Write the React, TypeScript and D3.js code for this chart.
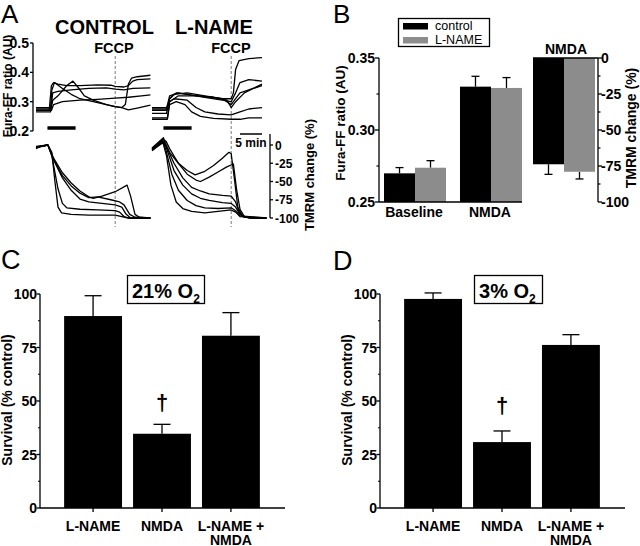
import React from 'react';
import * as d3 from 'd3';

const FONT = '"Liberation Sans", Arial, Helvetica, sans-serif';

// ---------- Panel A data ----------
const furaTicksA = [0.2, 0.3, 0.4, 0.5];
const tmrmTicksA = [0, -25, -50, -75, -100];
const fccpTime = 18;
const nmdaPeriod = [2.6, 9];
const scaleBarMinutes = 5;

type Pt = [number, number];

const controlFura: Pt[][] = [
  [[0, 0.27], [3, 0.27], [3.5, 0.355], [4, 0.365], [5, 0.36], [7, 0.355], [10, 0.355], [14, 0.357], [17, 0.356], [18, 0.352], [20, 0.35], [21, 0.355], [22, 0.37], [23, 0.375], [26, 0.378]],
  [[0, 0.265], [3.3, 0.265], [3.8, 0.305], [5, 0.32], [7, 0.355], [8.4, 0.37], [9.5, 0.35], [11, 0.32], [13, 0.305], [16, 0.29], [18, 0.283], [19.5, 0.28], [20.3, 0.29], [21, 0.36], [21.7, 0.38], [23, 0.385], [26, 0.39]],
  [[0, 0.275], [3.3, 0.275], [3.6, 0.34], [4.2, 0.365], [6, 0.345], [8, 0.325], [10, 0.31], [13, 0.3], [16, 0.29], [18, 0.283], [19.5, 0.28], [21, 0.272], [23, 0.278], [26, 0.288]],
  [[0, 0.27], [3.5, 0.27], [4, 0.29], [6, 0.3], [10, 0.305], [14, 0.308], [18, 0.312], [21, 0.315], [24, 0.32], [26, 0.323]],
  [[0, 0.28], [3.4, 0.28], [3.8, 0.33], [5, 0.335], [8, 0.34], [12, 0.345], [16, 0.347], [18, 0.343], [20, 0.34], [22, 0.345], [26, 0.347]],
];

const lnameFura: Pt[][] = [
  [[0, 0.27], [3.3, 0.27], [4, 0.31], [5, 0.325], [8, 0.33], [12, 0.32], [16, 0.31], [18, 0.31], [18.5, 0.33], [19, 0.41], [19.8, 0.44], [22, 0.447], [25, 0.45]],
  [[0, 0.26], [3.3, 0.26], [4, 0.31], [5.5, 0.33], [8, 0.325], [12, 0.315], [16, 0.305], [18, 0.3], [19, 0.33], [20, 0.365], [22, 0.375], [25, 0.37]],
  [[0, 0.275], [3.3, 0.275], [4, 0.32], [6, 0.33], [9, 0.322], [13, 0.315], [16, 0.31], [18, 0.29], [19, 0.31], [20, 0.33], [23, 0.345], [25, 0.355]],
  [[0, 0.245], [3.5, 0.245], [4, 0.3], [6, 0.32], [10, 0.32], [14, 0.315], [17, 0.305], [18, 0.28], [19, 0.3], [21, 0.33], [23, 0.345], [25, 0.36]],
  [[0, 0.28], [3.3, 0.28], [4, 0.3], [5, 0.31], [8, 0.305], [10, 0.28], [12, 0.265], [15, 0.258], [18, 0.255], [20, 0.265], [22, 0.275], [25, 0.28]],
  [[0, 0.24], [3.5, 0.24], [4, 0.29], [5.5, 0.3], [7.5, 0.29], [9, 0.265], [11, 0.25], [14, 0.243], [18, 0.24], [20, 0.24], [22, 0.245], [25, 0.245]],
];

const controlTmrm: Pt[][] = [
  [[0, -5], [1, -2], [2.7, 0], [3.6, -10], [4.3, -50], [5, -85], [5.8, -93], [8, -95], [12, -96], [16, -96], [18, -96], [19.5, -98], [21, -100], [26, -100]],
  [[0, -3], [2.7, 0], [3.6, -15], [5, -60], [6, -80], [7, -86], [10, -88], [14, -89], [18, -90], [19, -92], [20, -98], [21, -100], [26, -100]],
  [[0, -4], [2.7, 0], [4, -20], [6, -45], [8, -62], [10, -74], [12, -78], [15, -80], [18, -82], [19.5, -85], [20.5, -95], [21.5, -100], [26, -100]],
  [[0, -3], [2.7, 0], [4, -18], [6, -38], [8, -52], [10, -63], [12, -71], [13, -73], [15, -70], [18, -64], [20.7, -55], [21.5, -70], [22.5, -95], [23.5, -99], [26, -100]],
  [[0, -2], [2.7, 0], [4, -20], [6, -42], [8, -56], [10, -66], [12, -72], [14, -71], [17, -75], [19, -78], [20, -82], [21.3, -95], [22.5, -99], [26, -100]],
];

const lnameTmrm: Pt[][] = [
  [[0, -8], [1, -3], [2.5, 5], [3, 3], [4, -10], [6, -25], [8, -35], [9.8, -41], [12, -36], [14, -28], [16, -18], [17.5, -10], [18, -12], [18.8, -50], [19.5, -85], [20.5, -97], [22, -100], [26, -100]],
  [[0, -5], [2.5, 8], [3.2, 5], [4, -5], [6, -25], [8, -40], [10, -48], [11, -50], [13, -44], [15, -37], [17, -30], [18.5, -26], [19.2, -60], [20, -88], [21, -98], [22.5, -100], [26, -100]],
  [[0, -6], [2.5, 4], [3.5, -5], [5, -25], [7, -45], [9, -58], [11, -63], [13, -67], [16, -69], [18, -70], [19, -78], [19.8, -92], [21, -99], [26, -100]],
  [[0, -4], [2.6, 10], [3.5, -8], [5, -35], [7, -55], [9, -67], [11, -73], [13, -76], [16, -79], [18, -80], [19, -85], [20, -95], [21, -99], [26, -100]],
  [[0, -5], [2.5, 6], [3.3, -10], [4.5, -40], [6, -62], [8, -76], [10, -83], [12, -86], [15, -87], [18, -86], [19, -90], [20, -97], [26, -100]],
  [[0, -7], [2.5, 3], [3.3, -15], [4.3, -55], [5.5, -78], [7, -87], [9, -91], [12, -93], [15, -91], [18, -89], [19, -92], [20, -98], [26, -100]],
];

// ---------- Panel B data ----------
const bCategories = ['Baseline', 'NMDA'];
const bSeries = ['control', 'L-NAME'];
const furaControlMean = [0.2699, 0.3301];
const furaControlErr = [0.004, 0.0072];
const furaLnameMean = [0.2738, 0.3292];
const furaLnameErr = [0.0049, 0.0072];
const tmrmNmdaMean = [-73.8, -79.0];
const tmrmNmdaErr = [7.0, 5.0];
const bFuraTicks = [0.25, 0.3, 0.35];
const bFuraMinor = [0.275, 0.325];
const bTmrmTicks = [0, -25, -50, -75, -100];
const bTmrmMinor = [-12.5, -37.5, -62.5, -87.5];
const seriesColors = ['#000000', '#8c8c8c'];

// ---------- Panels C & D data ----------
const survivalCategories = ['L-NAME', 'NMDA', 'L-NAME + NMDA'];
const survivalLabelLines = [['L-NAME'], ['NMDA'], ['L-NAME +', 'NMDA']];
const survival21 = [89.7, 34.7, 80.5];
const survival21Err = [9.5, 4.4, 10.8];
const survival3 = [97.7, 30.8, 76.2];
const survival3Err = [2.8, 5.2, 4.8];
const survivalTicks = [0, 25, 50, 75, 100];
const survivalMinor = [12.5, 37.5, 62.5, 87.5];

const B = { fontFamily: FONT, fontWeight: 700 } as const;

function PanelA() {
  const yF = d3.scaleLinear().domain([0.2, 0.5]).range([131, 43]);
  const yT = d3.scaleLinear().domain([-100, 0]).range([218, 145]);
  const xC = d3.scaleLinear().domain([0, 26]).range([36, 150.4]);
  const xL = d3.scaleLinear().domain([0, 26]).range([152, 266.4]);
  const lineFor = (x: d3.ScaleLinear<number, number>, y: d3.ScaleLinear<number, number>) =>
    d3.line<Pt>().x((d) => x(d[0])).y((d) => y(d[1]));
  const tr = { fill: 'none', stroke: '#000', strokeWidth: 1.3, strokeLinejoin: 'round' as const };
  return (
    <g>
      <text x={1} y={23} fontFamily={FONT} fontSize={26}>A</text>
      <text x={55} y={34} {...B} fontSize={20}>CONTROL</text>
      <text x={175} y={34} {...B} fontSize={20}>L-NAME</text>
      <text x={114} y={53} {...B} fontSize={14.5} textAnchor="middle">FCCP</text>
      <text x={231} y={53} {...B} fontSize={14.5} textAnchor="middle">FCCP</text>
      {[xC, xL].map((x, i) => (
        <line key={i} x1={x(fccpTime)} x2={x(fccpTime)} y1={56} y2={227} stroke="#555" strokeWidth={0.8} strokeDasharray="3,2" />
      ))}
      {/* Fura axis */}
      <line x1={33} x2={33} y1={yF(0.5)} y2={yF(0.2)} stroke="#000" strokeWidth={1.3} />
      {furaTicksA.map((t) => (
        <g key={t}>
          <line x1={30} x2={33} y1={yF(t)} y2={yF(t)} stroke="#000" strokeWidth={1.3} />
          <text x={29} y={yF(t) + 5} {...B} fontSize={14} textAnchor="end">{t.toFixed(1)}</text>
        </g>
      ))}
      <text transform="translate(12,86) rotate(-90)" {...B} fontSize={12} textAnchor="middle">Fura-FF ratio (AU)</text>
      {/* NMDA bars */}
      {[xC, xL].map((x, i) => (
        <line key={i} x1={x(nmdaPeriod[0])} x2={x(nmdaPeriod[1])} y1={128} y2={128} stroke="#000" strokeWidth={3.5} />
      ))}
      {controlFura.map((d, i) => <path key={'cf' + i} d={lineFor(xC, yF)(d) || ''} {...tr} />)}
      {lnameFura.map((d, i) => <path key={'lf' + i} d={lineFor(xL, yF)(d) || ''} {...tr} />)}
      {controlTmrm.map((d, i) => <path key={'ct' + i} d={lineFor(xC, yT)(d) || ''} {...tr} />)}
      {lnameTmrm.map((d, i) => <path key={'lt' + i} d={lineFor(xL, yT)(d) || ''} {...tr} />)}
      {/* scale bar */}
      <line x1={240} x2={240 + (xL(scaleBarMinutes) - xL(0))} y1={134} y2={134} stroke="#000" strokeWidth={1.5} />
      <text x={251} y={147} {...B} fontSize={12} textAnchor="middle">5 min</text>
      {/* TMRM axis */}
      <line x1={270} x2={270} y1={yT(15)} y2={yT(-100)} stroke="#000" strokeWidth={1.3} />
      {tmrmTicksA.map((t) => (
        <g key={t}>
          <line x1={270} x2={273} y1={yT(t)} y2={yT(t)} stroke="#000" strokeWidth={1.3} />
          <text x={275} y={yT(t) + 4.5} {...B} fontSize={12}>{t}</text>
        </g>
      ))}
      <text transform="translate(314,175) rotate(-90)" {...B} fontSize={13} textAnchor="middle">TMRM change (%)</text>
    </g>
  );
}

function PanelB() {
  const x0 = d3.scaleBand<string>().domain(bCategories).range([379, 527]).paddingInner(0.184).paddingOuter(0.066);
  const x1 = d3.scaleBand<string>().domain(bSeries).range([0, x0.bandwidth()]);
  const y = d3.scaleLinear().domain([0.25, 0.35]).range([202, 58]);
  const xT = d3.scaleBand<string>().domain(bSeries).range([533, 595]);
  const yT = d3.scaleLinear().domain([-100, 0]).range([202, 58]);
  const means = [furaControlMean, furaLnameMean];
  const errs = [furaControlErr, furaLnameErr];
  return (
    <g>
      <text x={333} y={23} fontFamily={FONT} fontSize={26}>B</text>
      {/* legend */}
      <rect x={398.5} y={18.5} width={91} height={28} fill="#fff" stroke="#000" strokeWidth={1.3} />
      {bSeries.map((s, i) => (
        <g key={s}>
          <rect x={403} y={23 + i * 14} width={25} height={6.5} fill={seriesColors[i]} />
          <text x={435} y={30 + i * 14} fontFamily={FONT} fontSize={12.5}>{s}</text>
        </g>
      ))}
      {/* Fura bars */}
      {bCategories.map((c, ci) =>
        bSeries.map((s, si) => {
          const v = means[si][ci];
          const e = errs[si][ci];
          const bx = (x0(c) || 0) + (x1(s) || 0);
          const cx = bx + x1.bandwidth() / 2;
          return (
            <g key={c + s}>
              <line x1={cx} x2={cx} y1={y(v)} y2={y(v + e)} stroke="#000" strokeWidth={1.3} />
              <line x1={cx - 4} x2={cx + 4} y1={y(v + e)} y2={y(v + e)} stroke="#000" strokeWidth={1.3} />
              <rect x={bx} y={y(v)} width={x1.bandwidth()} height={y(0.25) - y(v)} fill={seriesColors[si]} />
            </g>
          );
        })
      )}
      <line x1={379} x2={379} y1={y(0.35)} y2={y(0.25)} stroke="#000" strokeWidth={1.3} />
      <line x1={379} x2={522} y1={y(0.25)} y2={y(0.25)} stroke="#000" strokeWidth={1.3} />
      {bFuraTicks.map((t) => (
        <g key={t}>
          <line x1={375} x2={379} y1={y(t)} y2={y(t)} stroke="#000" strokeWidth={1.3} />
          <text x={375} y={y(t) + 5} {...B} fontSize={14} textAnchor="end">{t.toFixed(2)}</text>
        </g>
      ))}
      {bFuraMinor.map((t) => (
        <line key={t} x1={376.5} x2={379} y1={y(t)} y2={y(t)} stroke="#000" strokeWidth={1.2} />
      ))}
      {bCategories.map((c) => (
        <text key={c} x={(x0(c) || 0) + x0.bandwidth() / 2 - 1} y={217} {...B} fontSize={14} textAnchor="middle">{c}</text>
      ))}
      <text transform="translate(345,123) rotate(-90)" {...B} fontSize={13.5} textAnchor="middle">Fura-FF ratio (AU)</text>
      {/* TMRM bars */}
      <text x={566} y={54} {...B} fontSize={14} textAnchor="middle">NMDA</text>
      {bSeries.map((s, si) => {
        const v = tmrmNmdaMean[si];
        const e = tmrmNmdaErr[si];
        const bx = xT(s) || 0;
        const cx = bx + xT.bandwidth() / 2;
        return (
          <g key={s}>
            <line x1={cx} x2={cx} y1={yT(v)} y2={yT(v - e)} stroke="#000" strokeWidth={1.3} />
            <line x1={cx - 4} x2={cx + 4} y1={yT(v - e)} y2={yT(v - e)} stroke="#000" strokeWidth={1.3} />
            <rect x={bx} y={yT(0)} width={xT.bandwidth()} height={yT(v) - yT(0)} fill={seriesColors[si]} />
          </g>
        );
      })}
      <line x1={533} x2={598} y1={yT(0)} y2={yT(0)} stroke="#000" strokeWidth={1.3} />
      <line x1={598} x2={598} y1={yT(0)} y2={yT(-100)} stroke="#000" strokeWidth={1.3} />
      {bTmrmTicks.map((t) => (
        <g key={t}>
          <line x1={598} x2={602} y1={yT(t)} y2={yT(t)} stroke="#000" strokeWidth={1.3} />
          <text x={601} y={yT(t) + 5} {...B} fontSize={14}>{t}</text>
        </g>
      ))}
      {bTmrmMinor.map((t) => (
        <line key={t} x1={598} x2={600.5} y1={yT(t)} y2={yT(t)} stroke="#000" strokeWidth={1.2} />
      ))}
      <text transform="translate(636,128) rotate(-90)" {...B} fontSize={14} textAnchor="middle">TMRM change (%)</text>
    </g>
  );
}

function SurvivalPanel(props: {
  ox: number; letter: string; letterX: number; letterY: number;
  values: number[]; errs: number[]; pct: string; boxX: number; boxW: number; daggerY: number;
}) {
  const { ox, values, errs } = props;
  const y = d3.scaleLinear().domain([0, 100]).range([508, 294]);
  const x = d3.scaleBand<string>().domain(survivalCategories).range([ox, ox + 244]).paddingInner(0.16).paddingOuter(0.35);
  const dagIdx = 1;
  return (
    <g>
      <text x={props.letterX} y={props.letterY} fontFamily={FONT} fontSize={27}>{props.letter}</text>
      <rect x={props.boxX + 0.5} y={275.5} width={props.boxW} height={28} fill="#fff" stroke="#000" strokeWidth={1.3} />
      <text x={props.boxX + 5} y={298} {...B} fontSize={20}>
        <tspan>{props.pct}% O</tspan>
        <tspan dy={5} fontSize={12}>2</tspan>
      </text>
      {survivalCategories.map((c, i) => {
        const v = values[i];
        const e = errs[i];
        const bx = x(c) || 0;
        const cx = bx + x.bandwidth() / 2;
        return (
          <g key={c}>
            <line x1={cx} x2={cx} y1={y(v)} y2={y(v + e)} stroke="#000" strokeWidth={1.3} />
            <line x1={cx - 8.5} x2={cx + 8.5} y1={y(v + e)} y2={y(v + e)} stroke="#000" strokeWidth={1.3} />
            <rect x={bx} y={y(v)} width={x.bandwidth()} height={y(0) - y(v)} fill="#000" />
            <line x1={cx} x2={cx} y1={y(0)} y2={y(0) + 4} stroke="#000" strokeWidth={1.3} />
            <text {...B} fontSize={14} textAnchor="middle">
              {survivalLabelLines[i].map((l, li) => (
                <tspan key={li} x={cx} y={531 + li * 13.5}>{l}</tspan>
              ))}
            </text>
          </g>
        );
      })}
      <text x={(x(survivalCategories[dagIdx]) || 0) + x.bandwidth() / 2} y={props.daggerY} {...B} fontSize={22} textAnchor="middle">†</text>
      <line x1={ox} x2={ox} y1={y(100)} y2={y(0)} stroke="#000" strokeWidth={1.3} />
      <line x1={ox} x2={ox + 245} y1={y(0)} y2={y(0)} stroke="#000" strokeWidth={1.3} />
      {survivalTicks.map((t) => (
        <g key={t}>
          <line x1={ox - 3.5} x2={ox} y1={y(t)} y2={y(t)} stroke="#000" strokeWidth={1.3} />
          <text x={ox - 3} y={y(t) + 5} {...B} fontSize={14} textAnchor="end">{t}</text>
        </g>
      ))}
      {survivalMinor.map((t) => (
        <line key={t} x1={ox - 2} x2={ox} y1={y(t)} y2={y(t)} stroke="#000" strokeWidth={1.2} />
      ))}
      <text transform={`translate(${ox - 28},400) rotate(-90)`} {...B} fontSize={14} textAnchor="middle">Survival (% control)</text>
    </g>
  );
}

export default function App() {
  return (
    <svg width={640} height={546} viewBox="0 0 640 546" style={{ position: 'absolute', left: 0, top: 0, background: '#fff' }}>
      <rect width={640} height={546} fill="#fff" />
      <PanelA />
      <PanelB />
      <SurvivalPanel ox={40} letter="C" letterX={1} letterY={269} values={survival21} errs={survival21Err} pct="21" boxX={127} boxW={77} daggerY={410} />
      <SurvivalPanel ox={380} letter="D" letterX={333} letterY={270} values={survival3} errs={survival3Err} pct="3" boxX={474} boxW={68} daggerY={413} />
    </svg>
  );
}
